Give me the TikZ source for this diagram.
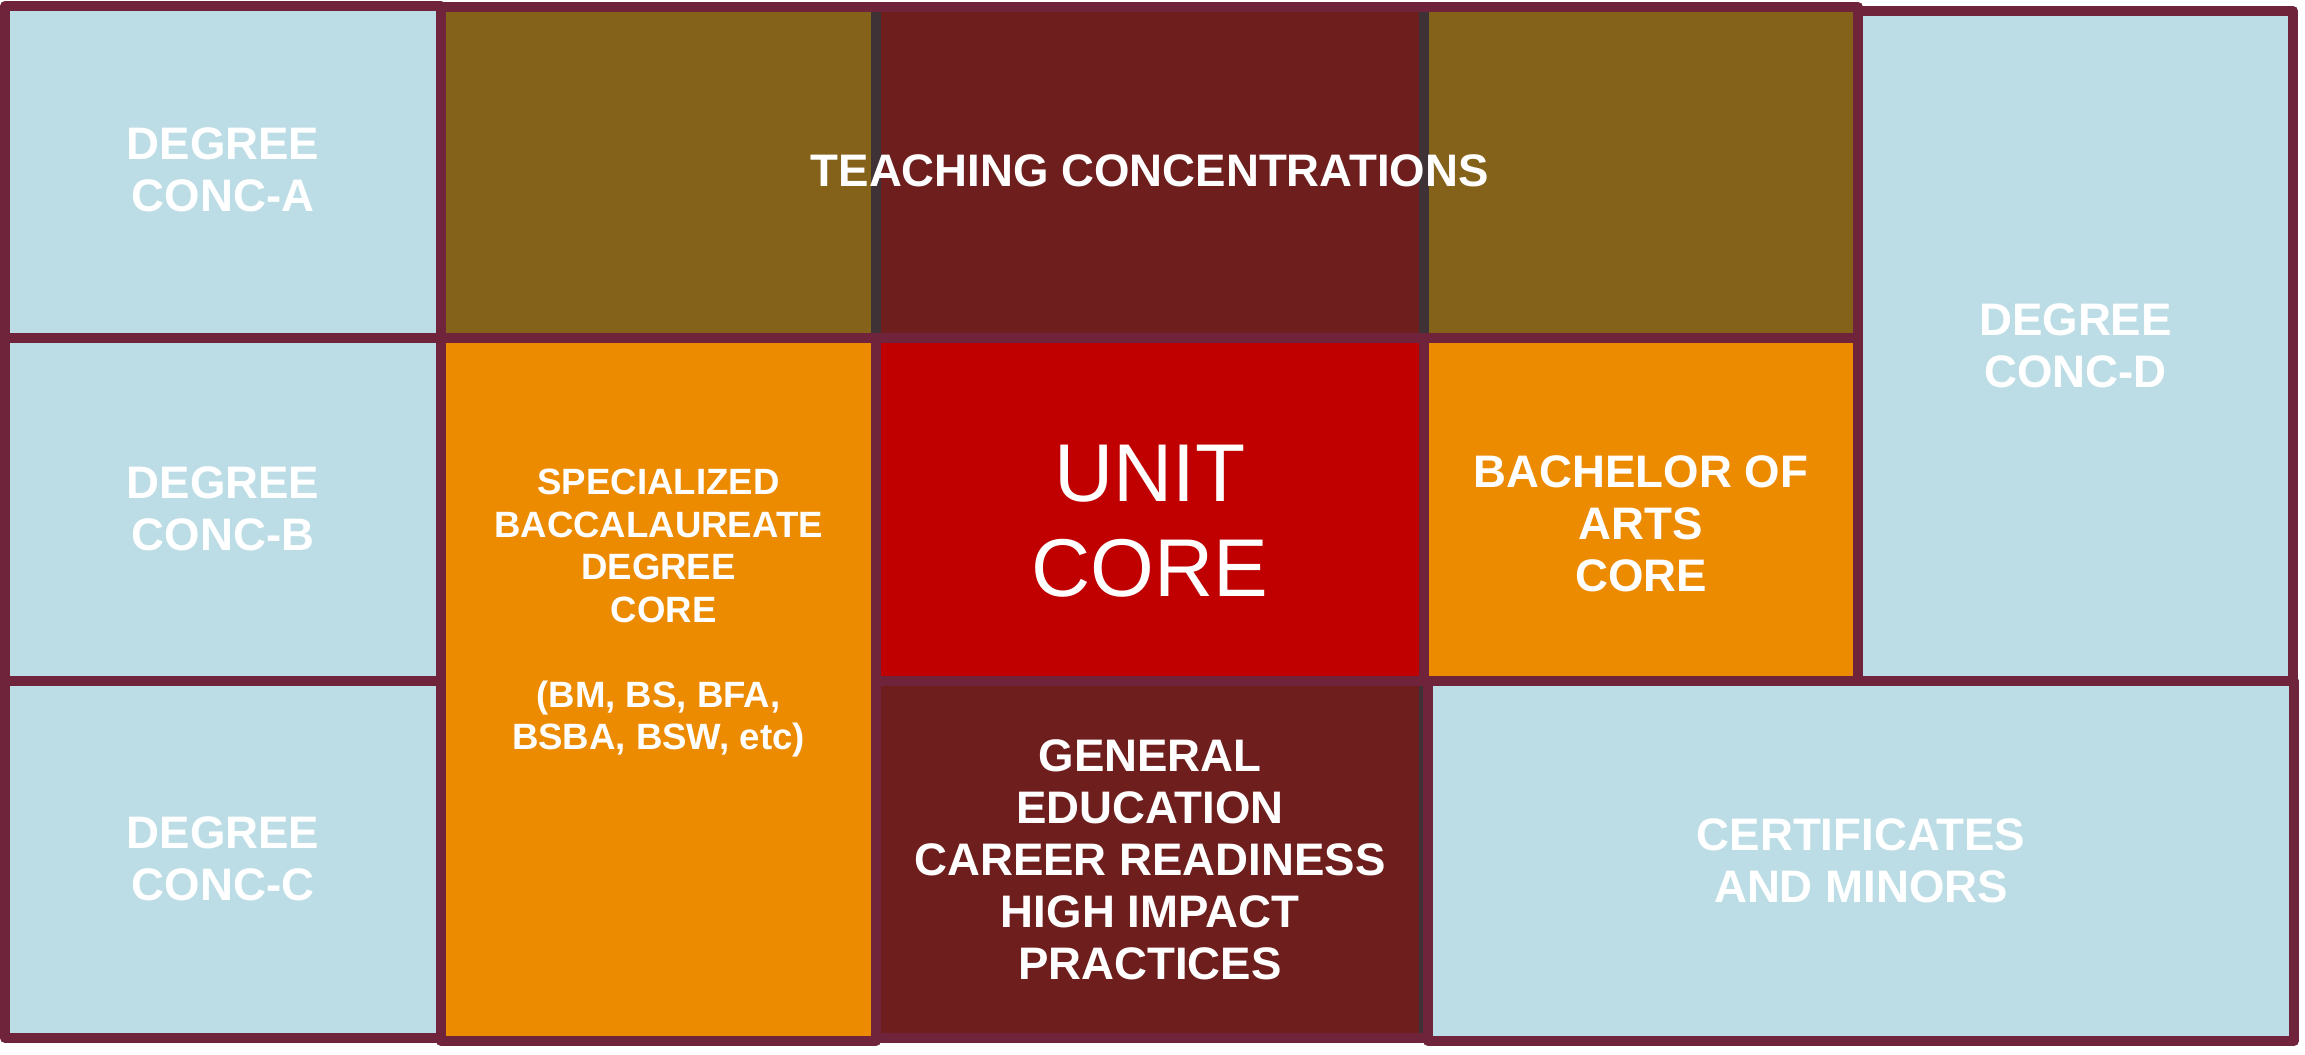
\documentclass[tikz,border=0pt]{standalone}
\usepackage{fontspec}
\setmainfont{Liberation Sans}
\usetikzlibrary{calc}
\definecolor{lb}{RGB}{188,221,229}
\definecolor{olv}{RGB}{133,98,26}
\definecolor{dmar}{RGB}{110,31,29}
\definecolor{ured}{RGB}{192,0,0}
\definecolor{orng}{RGB}{236,138,0}
\definecolor{bordc}{RGB}{111,36,60}
\definecolor{dgry}{RGB}{62,50,55}
\newcommand\cellbox[6]{%
  \node[cell, fill=#2, minimum width={(#5-#3)*0.5pt}, minimum height={(#6-#4)*0.5pt}] (#1) at (#3,#4) {};}
\begin{document}
\begin{tikzpicture}[x=0.5pt,y=-0.5pt,
  cell/.style={draw=bordc, line width=5pt, line join=round, inner sep=0pt, outer sep=0pt, anchor=north west},
  lbl/.style={text=white, font=\bfseries\fontsize{22.8}{26}\selectfont, align=center, inner sep=0pt},
  slbl/.style={text=white, font=\bfseries\fontsize{18.3}{21.25}\selectfont, align=center, inner sep=0pt},
  blbl/.style={text=white, font=\fontsize{41}{47.5}\selectfont, align=center, inner sep=0pt},
  divider/.style={draw=dgry, line width=5pt, shorten >=2.5pt, shorten <=2.5pt}]
\useasboundingbox (0,0) rectangle (2305,1054);
\fill[white] (0,0) rectangle (2305,1054);
% top row: teaching concentrations
\cellbox{t1}{olv}{441}{7}{876}{338}
\cellbox{t2}{dmar}{876}{7}{1424}{338}
\cellbox{t3}{olv}{1424}{7}{1858}{338}
% right column
\cellbox{d}{lb}{1858}{11}{2293}{681}
% left column
\cellbox{a}{lb}{5}{6}{441}{338}
\cellbox{b}{lb}{5}{338}{441}{681}
\cellbox{c}{lb}{5}{681}{441}{1038}
% middle
\cellbox{sp}{orng}{441}{338}{876}{1041}
\cellbox{u}{ured}{876}{338}{1424}{681}
\cellbox{ba}{orng}{1424}{338}{1858}{681}
\cellbox{g}{dmar}{876}{681}{1424}{1038}
\cellbox{ce}{lb}{1428}{681}{2294}{1041}
% dark grey dividers inside the teaching row
\draw[divider] (t2.north west) -- (t2.south west);
\draw[divider] (t2.north east) -- (t2.south east);
\draw[draw=dgry, line width=2pt, shorten >=2.5pt, shorten <=2.5pt]
  ([xshift=-1.5pt]g.north east) -- ([xshift=-1.5pt]g.south east);
% labels
\node[lbl] (la) at ($(a.center)+(0,-2)$) {DEGREE\\CONC-A};
\node[lbl] (lb) at ($(b.center)+(0,-1)$) {DEGREE\\CONC-B};
\node[lbl] (lc) at ($(c.center)+(0,-1)$) {DEGREE\\CONC-C};
\node[lbl] (ld) at (d.center) {DEGREE\\CONC-D};
\node[lbl] (lt) at ($(t1.center)!0.5!(t3.center)+(0,-2)$) {TEACHING CONCENTRATIONS};
\node[slbl, anchor=north] (lsp) at ($(sp.north)+(0,131)$)
  {SPECIALIZED\\BACCALAUREATE\\DEGREE\\\hspace*{.28em}CORE\\[21.25pt](BM, BS, BFA,\\BSBA, BSW, etc)};
\node[blbl] (lu) at ($(u.center)+(0,12)$) {UNIT\\CORE};
\node[lbl] (lba) at ($(ba.center)+(0,14)$) {BACHELOR OF\\ARTS\\CORE};
\node[lbl] (lg) at (g.center) {GENERAL\\EDUCATION\\CAREER READINESS\\HIGH IMPACT\\PRACTICES};
\node[lbl] (lce) at (ce.center) {CERTIFICATES\\AND MINORS};
\end{tikzpicture}
\end{document}
